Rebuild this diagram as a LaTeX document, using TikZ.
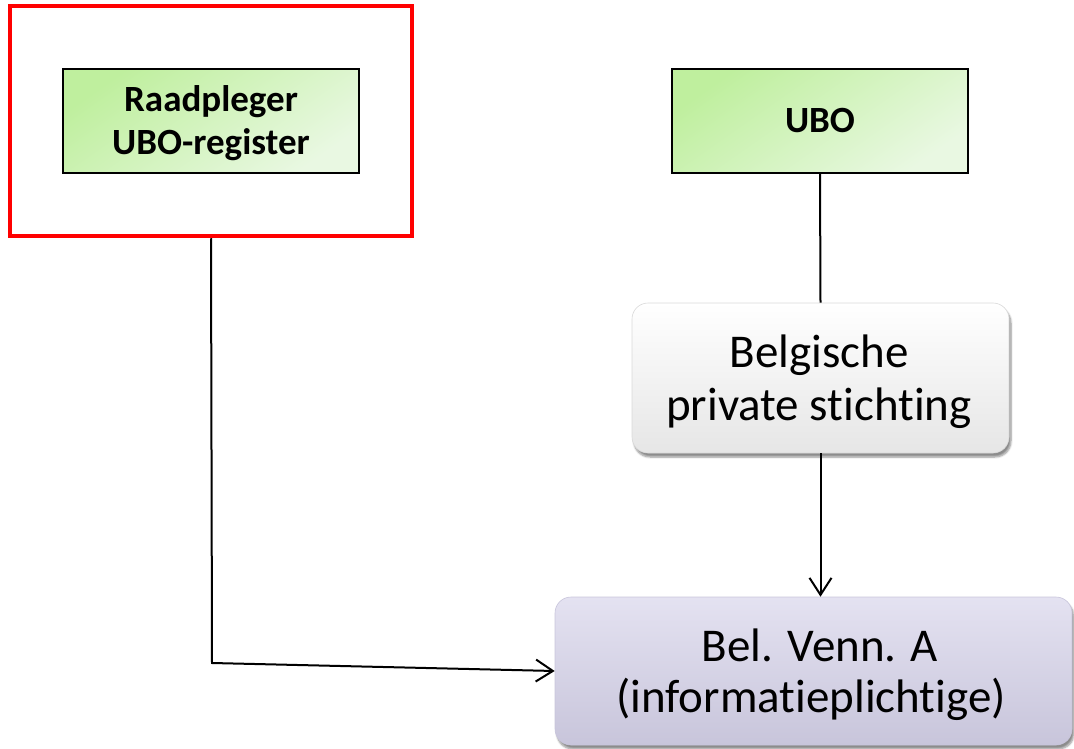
\documentclass[tikz,border=0pt]{standalone}
\usepackage{fontspec}
\setmainfont{Carlito}[Ligatures=NoCommon]
\usetikzlibrary{arrows.meta,shadows.blur}
\definecolor{gA}{HTML}{BFEF9E}
\definecolor{gB}{HTML}{E9F8E2}
\definecolor{vA}{HTML}{E4E2F1}
\definecolor{vB}{HTML}{C8C5DB}
\definecolor{wB}{HTML}{E6E6E6}
\tikzset{
  greenbox/.style={draw=black, line width=1.5pt, minimum width=296pt, minimum height=104pt,
    top color=gA, bottom color=gB, shading angle=35, inner sep=0pt},
  softbox/.style={rounded corners=16pt, inner sep=0pt,
    blur shadow={shadow xshift=2pt, shadow yshift=-4pt, shadow blur steps=6, shadow opacity=45}},
  lbl/.style={anchor=base, inner sep=0pt},
  boldtxt/.style={lbl, font=\fontsize{37}{43}\selectfont\bfseries},
  midtxt/.style={lbl, font=\fontsize{47}{50}\selectfont},
  bigtxt/.style={lbl, font=\fontsize{47}{53}\selectfont},
  conn/.style={draw=black, line width=2pt},
  arr/.style={conn, -{Straight Barb[length=17pt,width=22pt,line width=2pt]}}
}
\begin{document}
\begin{tikzpicture}[x=1pt,y=-1pt]
\useasboundingbox (0,0) rectangle (1074,749);
\node[draw=red, line width=4.5pt, minimum width=402pt, minimum height=230pt, inner sep=0pt] (frame) at (211,121) {};
\node[greenbox] (rp) at (211,121) {};
\node[boldtxt] (rp1) at (211,112) {Raadpleger};
\node[boldtxt] (rp2) at (211,155) {UBO-register};
\node[greenbox] (ubo) at (820,121) {};
\node[boldtxt] (ubo1) at (820,133) {UBO};
\node[softbox, minimum width=377pt, minimum height=150pt, draw=black!15, line width=0.6pt,
  top color=white, bottom color=wB] (bps) at (820.5,378) {};
\node[midtxt] (bps1) at (819,367) {Belgische};
\node[midtxt] (bps2) at (819,420) {private stichting};
\node[softbox, minimum width=517pt, minimum height=148pt, draw=vB, line width=0.6pt,
  top color=vA, bottom color=vB] (bva) at (813.5,671) {};
\node[bigtxt] (bva1) at (820,661) {Bel. Venn. A};
\node[bigtxt] (bva2) at (811,712) {(informatieplichtige)};
\coordinate (bend) at (212,663);
\draw[conn] (ubo.south) -- (bps.north);
\draw[arr] (bps.south) -- (bps.south |- bva.north);
\draw[arr] (frame.south) -- (bend) -- (bva.west);
\end{tikzpicture}
\end{document}
